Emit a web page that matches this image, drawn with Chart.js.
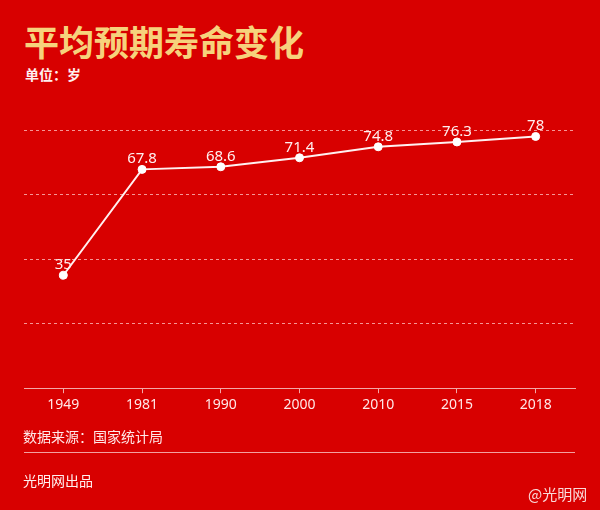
<!DOCTYPE html>
<html>
<head>
<meta charset="utf-8">
<script src="https://cdn.jsdelivr.net/npm/chart.js@4"></script>
<style>
    html, body { margin: 0; padding: 0; }
    body {
        width: 600px; height: 510px; position: relative; overflow: hidden;
        background: #d80000;
        font-family: "Noto Sans CJK SC", "Noto Sans", sans-serif;
    }
    #chart { position: absolute; left: 0; top: 0; }
    .txt { position: absolute; white-space: nowrap; }
    #titre { left: 24px; top: 19px; font-size: 35px; font-weight: bold; color: #f6d27c; line-height: 44px; }
    #unite { left: 25px; top: 64px; font-size: 14px; font-weight: bold; color: #fff0f0; line-height: 20px; }
    #source { left: 23px; top: 426px; font-size: 14px; color: #ffe8e8; line-height: 20px; }
    #sep { position: absolute; left: 24px; top: 452px; width: 551px; height: 1px; background: #f3a0a0; }
    #credit { left: 23px; top: 470px; font-size: 14px; color: #fff0f0; line-height: 20px; }
    #marque { left: 528px; top: 484px; font-size: 15px; color: rgba(255,255,255,0.85); line-height: 20px; }
</style>
</head>
<body>
<div class="txt" id="titre">平均预期寿命变化</div>
<div class="txt" id="unite">单位：岁</div>
<canvas id="chart" width="600" height="510"></canvas>
<div class="txt" id="source">数据来源：国家统计局</div>
<div id="sep"></div>
<div class="txt" id="credit">光明网出品</div>
<div class="txt" id="marque">@光明网</div>
<script>
const annees = ['1949', '1981', '1990', '2000', '2010', '2015', '2018'];
const esperance = [35, 67.8, 68.6, 71.4, 74.8, 76.3, 78];
const graduations = [0, 20, 40, 60, 80];

// étiquettes de valeur au-dessus des points
const etiquettes = {
    id: 'etiquettes',
    afterDatasetsDraw(chart) {
        const ctx = chart.ctx;
        const meta = chart.getDatasetMeta(0);
        ctx.save();
        ctx.font = '15px "Noto Sans", "DejaVu Sans", sans-serif';
        ctx.fillStyle = '#fff0f0';
        ctx.textAlign = 'center';
        ctx.textBaseline = 'bottom';
        meta.data.forEach((pt, i) => {
            ctx.fillText(String(esperance[i]), pt.x, pt.y - 3);
        });
        ctx.restore();
    }
};

const ctx = document.getElementById('chart').getContext('2d');
new Chart(ctx, {
    type: 'line',
    data: {
        labels: annees,
        datasets: [{
            data: esperance,
            borderColor: '#fff0f0',
            borderWidth: 2,
            pointRadius: 4,
            pointBackgroundColor: '#ffffff',
            pointBorderColor: '#ffffff',
            pointBorderWidth: 1,
            tension: 0,
            clip: false
        }]
    },
    options: {
        responsive: false,
        animation: false,
        layout: { padding: { left: 24, right: 25, top: 130, bottom: 94 } },
        plugins: {
            legend: { display: false },
            title: { display: false },
            tooltip: { enabled: false }
        },
        scales: {
            x: {
                offset: true,
                grid: { drawOnChartArea: false, drawTicks: true, tickLength: 5, color: '#f3a8a8' },
                border: { color: '#f3a8a8', width: 1 },
                ticks: { color: '#ffe8e8', font: { size: 14, family: '"Noto Sans", "DejaVu Sans", sans-serif' }, padding: 3 }
            },
            y: {
                min: graduations[0],
                max: graduations[graduations.length - 1],
                afterBuildTicks: axis => { axis.ticks = graduations.map(v => ({ value: v })); },
                ticks: { display: false },
                border: { display: false, dash: [3, 3] },
                grid: {
                    drawTicks: false,
                    color: c => c.tick && c.tick.value === 0 ? 'transparent' : 'rgba(255,200,200,0.75)'
                }
            }
        }
    },
    plugins: [etiquettes]
});
</script>
</body>
</html>
